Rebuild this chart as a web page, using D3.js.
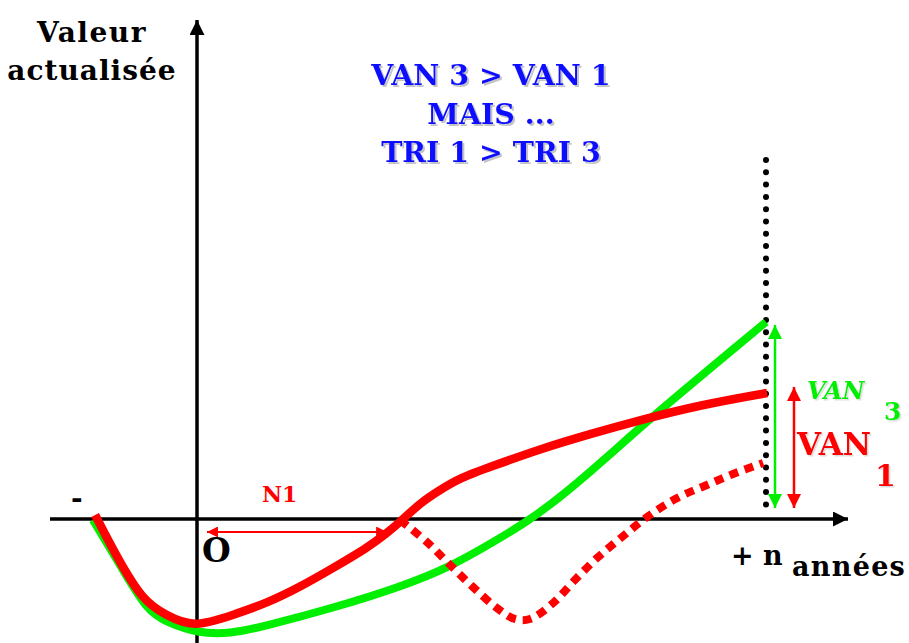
<!DOCTYPE html>
<html><head><meta charset="utf-8">
<script src="https://cdn.jsdelivr.net/npm/d3@7"></script>
<style>body{margin:0;background:#fff}svg{display:block}</style>
</head><body>
<svg id="c" width="909" height="643"></svg>
<script>
// Data (x: années, n = 10 ; y: valeur actualisée)
const greenX = [-1.83,-1.35,-0.88,-0.50,0,0.58,1.2,2.39,3.57,4.45,5.27,5.85,6.50,7.21,8.01,10];
const greenY = [-0.05,-2.3,-4.6,-5.2,-5.7,-5.75,-5.35,-4.45,-3.4,-2.4,-1.05,-0.05,1.35,3.1,5.15,9.85];
const redX = [-1.79,-1.41,-0.95,-0.55,-0.07,0.63,1.23,1.81,2.39,2.99,3.34,3.57,3.92,4.27,4.62,5.15,6.03,6.91,7.79,8.84,10.02];
const redY = [0.2,-1.9,-4.1,-4.8,-5.45,-4.8,-4.2,-3.4,-2.45,-1.45,-0.7,-0.15,0.8,1.45,2.05,2.6,3.5,4.25,4.95,5.7,6.3];
const dotX = [3.57,4.04,4.45,4.85,5.27,5.59,5.85,6.26,6.64,7.05,7.47,7.91,8.44,8.96,9.42,9.95];
const dotY = [-0.05,-1.15,-2.3,-3.4,-4.45,-5.0,-5.0,-4.2,-3.05,-1.9,-0.9,0.1,1.05,1.7,2.25,2.8];
const nYears = 10;
const van3 = 9.85, van1 = 6.3;
const n1 = 3.5;
const titleLines = ["VAN 3 > VAN 1", "MAIS ...", "TRI 1 > TRI 3"];

const svg = d3.select("#c");
const x = d3.scaleLinear().domain([0, 10]).range([197, 766]);
const y = d3.scaleLinear().domain([0, 10]).range([519, 319]);
const FONT = "'DejaVu Serif', serif";

const defs = svg.append("defs");
function marker(id, color, w, h) {
  defs.append("marker").attr("id", id).attr("viewBox", "0 0 10 10")
    .attr("refX", 10).attr("refY", 5).attr("markerWidth", w).attr("markerHeight", h)
    .attr("markerUnits", "userSpaceOnUse").attr("orient", "auto-start-reverse")
    .append("path").attr("d", "M0,0 L10,5 L0,10 Z").attr("fill", color);
}
marker("ak", "#000", 16, 15);
marker("ag", "#00ee00", 17, 14);
marker("ar", "#ff0000", 17, 14);
marker("ar2", "#ff0000", 16, 11);
const sh = defs.append("filter").attr("id", "sh").attr("x", "-10%").attr("y", "-20%")
  .attr("width", "120%").attr("height", "140%");
sh.append("feDropShadow").attr("dx", 2).attr("dy", 2).attr("stdDeviation", 0.6)
  .attr("flood-color", "#888").attr("flood-opacity", 0.5);
const sh2 = defs.append("filter").attr("id", "sh2").attr("x", "-10%").attr("y", "-20%")
  .attr("width", "120%").attr("height", "140%");
sh2.append("feDropShadow").attr("dx", 1.5).attr("dy", 1.5).attr("stdDeviation", 0.5)
  .attr("flood-color", "#999").attr("flood-opacity", 0.35);

// axes
svg.append("line").attr("x1", 50).attr("x2", 848).attr("y1", y(0)).attr("y2", y(0))
  .attr("stroke", "#000").attr("stroke-width", 3.5).attr("marker-end", "url(#ak)");
svg.append("line").attr("x1", x(0)).attr("x2", x(0)).attr("y1", 643).attr("y2", 20)
  .attr("stroke", "#000").attr("stroke-width", 3.5).attr("marker-end", "url(#ak)");

// dotted vertical at n
svg.append("line").attr("x1", x(nYears)).attr("x2", x(nYears)).attr("y1", 160).attr("y2", 513)
  .attr("stroke", "#000").attr("stroke-width", 6).attr("stroke-linecap", "round")
  .attr("stroke-dasharray", "0,12.3");

const smooth = d3.line().x(d => x(d[0])).y(d => y(d[1])).curve(d3.curveBasis);
const line = d3.line().x(d => x(d[0])).y(d => y(d[1])).curve(d3.curveCatmullRom.alpha(0.5));
const zip = (a, b) => a.map((v, i) => [v, b[i]]);

svg.append("path").attr("d", smooth(zip(greenX, greenY))).attr("fill", "none")
  .attr("stroke", "#00ee00").attr("stroke-width", 8);
svg.append("path").attr("d", line(zip(dotX, dotY))).attr("fill", "none")
  .attr("stroke", "#ff0000").attr("stroke-width", 8).attr("stroke-dasharray", "9,7");
svg.append("path").attr("d", smooth(zip(redX, redY))).attr("fill", "none")
  .attr("stroke", "#ff0000").attr("stroke-width", 8.5);

// VAN arrows
svg.append("line").attr("x1", 775).attr("x2", 775).attr("y1", y(van3) + 3).attr("y2", 508)
  .attr("stroke", "#00ee00").attr("stroke-width", 2.5)
  .attr("marker-start", "url(#ag)").attr("marker-end", "url(#ag)");
svg.append("line").attr("x1", 794).attr("x2", 794).attr("y1", y(van1) - 6).attr("y2", 508)
  .attr("stroke", "#ff0000").attr("stroke-width", 2.5)
  .attr("marker-start", "url(#ar)").attr("marker-end", "url(#ar)");

// N1 arrow
svg.append("line").attr("x1", x(0) + 10).attr("x2", x(n1) - 9).attr("y1", 532).attr("y2", 532)
  .attr("stroke", "#ff0000").attr("stroke-width", 2)
  .attr("marker-start", "url(#ar2)").attr("marker-end", "url(#ar2)");

function txt(t, px, py, size, color, opts = {}) {
  const g = svg.append("text").attr("x", px).attr("y", py).text(t)
    .attr("font-family", FONT).attr("font-weight", "bold").attr("font-size", size)
    .attr("fill", color).attr("text-anchor", opts.anchor || "start");
  if (opts.italic) g.attr("font-style", "italic");
  if (opts.ls) g.attr("letter-spacing", opts.ls);
  if (opts.shadow) g.attr("filter", opts.shadow);
  return g;
}

titleLines.forEach((t, i) => {
  txt(t, 491, 85 + i * 38.5, 28.5, "#1010ff", {anchor: "middle", shadow: "url(#sh)"});
});

txt("Valeur", 92, 42, 28, "#000", {anchor: "middle", ls: 1.5});
txt("actualisée", 92, 80, 28, "#000", {anchor: "middle", ls: 1});
txt("-", 71, 508, 28, "#000");
txt("O", 202, 562, 33, "#000");
txt("N1", 262, 502, 22, "#ff0000");
txt("+ n", 731, 565, 27, "#000");
txt("années", 792, 576, 27, "#000", {ls: 1.3});
txt("VAN", 807, 399, 24, "#00ee00", {italic: true, shadow: "url(#sh2)"});
txt("3", 884, 420, 25, "#00ee00", {shadow: "url(#sh2)"});
txt("VAN", 797, 455, 31, "#ff0000", {shadow: "url(#sh2)"});
txt("1", 875, 486, 30, "#ff0000", {shadow: "url(#sh2)"});
</script>
</body></html>
